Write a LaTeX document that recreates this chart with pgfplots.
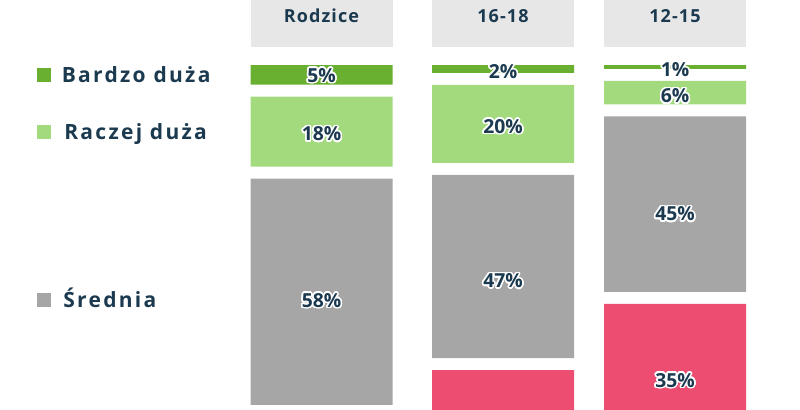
\documentclass[border=0pt]{standalone}
\usepackage{pgfplots}
\pgfplotsset{compat=1.18}
\usepackage{pgfplotstable}
\usepackage{fontspec}
\setmainfont{Open Sans}
\newfontfamily\legendfont[LetterSpace=11]{Open Sans}
\newfontfamily\colfont[LetterSpace=6]{Open Sans}
\usepackage{contour}
\contourlength{1.15pt}
\contournumber{24}

\definecolor{navy}{HTML}{1B3A4F}
\definecolor{bdcol}{HTML}{6AB030}
\definecolor{rdcol}{HTML}{A4DA7E}
\definecolor{srcol}{HTML}{A6A6A6}
\definecolor{rmcol}{HTML}{EC4D71}
\definecolor{headcol}{HTML}{E7E7E7}

% bar centre (px), shares in %, blank gap between segments (%),
% vertical nudge of each value label (px)
\pgfplotstableread{
x      bd  rd  sr  rm  g      bdo  rdo  sro   rmo
321.5  5   18  58  19  3.077  1.5  3    9.5   1.5
503    2   20  47  31  3.077  3.5  3.5  15    1.5
675    1   6   45  35  3.077  3.5  4    10.5  9
}\data

\pgfplotsset{
  frame/.style={
    at={(0,0)}, anchor=south west,
    scale only axis, width=600pt, height=307.5pt,
    xmin=0, xmax=800, ymin=-16.667, ymax=88.462,
    y dir=reverse, hide axis,
  },
  valuelabel/.style={
    draw=none, mark=none, point meta=explicit,
    restrict y to domain=-20:88.4,
    nodes near coords={\contour{white}{\pgfmathprintnumber{\pgfplotspointmeta}\%}},
    every node near coord/.append style={
      anchor=center, inner sep=0pt, text=navy,
      font=\bfseries\fontsize{14.5}{15}\selectfont},
  },
}

\begin{document}
\begin{tikzpicture}
% stacked segments, separated by blank gap segments
\begin{axis}[frame, ybar stacked, bar width=142]
  \addplot[draw=none, fill=bdcol] table[x=x, y=bd]{\data};
  \addplot[draw=none, fill=none] table[x=x, y=g]{\data};
  \addplot[draw=none, fill=rdcol] table[x=x, y=rd]{\data};
  \addplot[draw=none, fill=none] table[x=x, y=g]{\data};
  \addplot[draw=none, fill=srcol] table[x=x, y=sr]{\data};
  \addplot[draw=none, fill=none] table[x=x, y=g]{\data};
  \addplot[draw=none, fill=rmcol] table[x=x, y=rm]{\data};

  % column headers
  \fill[headcol] (axis cs:250.5,-16.667) rectangle (axis cs:392.5,-4.69);
  \fill[headcol] (axis cs:432,-16.667) rectangle (axis cs:574,-4.69);
  \fill[headcol] (axis cs:604,-16.667) rectangle (axis cs:746,-4.69);
  \coordinate (h1) at (axis cs:321.5,-10.85);
  \coordinate (h2) at (axis cs:503,-10.85);
  \coordinate (h3) at (axis cs:675,-10.85);

  % legend keys
  \fill[bdcol] (axis cs:37,0.77) rectangle (axis cs:51,4.36);
  \fill[rdcol] (axis cs:37,15.38) rectangle (axis cs:51,18.97);
  \fill[srcol] (axis cs:37,58.46) rectangle (axis cs:51,62.05);
  \coordinate (l1) at (axis cs:61.5,4.49);
  \coordinate (l2) at (axis cs:64,19.1);
  \coordinate (l3) at (axis cs:63,62.2);

  \coordinate (c1) at (rel axis cs:0,0);
  \coordinate (c2) at (rel axis cs:1,1);
\end{axis}

% value labels at the middle of each segment
\begin{axis}[frame, /pgf/number format/assume math mode=true]
  \addplot[valuelabel] table[x=x, meta=bd,
    y expr={\thisrow{bd}/2 + \thisrow{bdo}/3.9}]{\data};
  \addplot[valuelabel] table[x=x, meta=rd,
    y expr={\thisrow{bd} + \thisrow{g} + \thisrow{rd}/2 + \thisrow{rdo}/3.9}]{\data};
  \addplot[valuelabel] table[x=x, meta=sr,
    y expr={\thisrow{bd} + \thisrow{rd} + 2*\thisrow{g} + \thisrow{sr}/2 + \thisrow{sro}/3.9}]{\data};
  \addplot[valuelabel] table[x=x, meta=rm,
    y expr={\thisrow{bd} + \thisrow{rd} + \thisrow{sr} + 3*\thisrow{g} + \thisrow{rm}/2 + \thisrow{rmo}/3.9}]{\data};
\end{axis}

\begin{scope}[every node/.style={anchor=base, inner sep=0pt, text=navy,
    font=\colfont\bfseries\fontsize{13.5}{14}\selectfont}]
  \node at (h1) {Rodzice};
  \node at (h2) {16-18};
  \node at (h3) {12-15};
\end{scope}
\begin{scope}[every node/.style={anchor=base west, inner sep=0pt, text=navy,
    font=\legendfont\bfseries\fontsize{15.75}{16}\selectfont}]
  \node at (l1) {Bardzo duża};
  \node at (l2) {Raczej duża};
  \node at (l3) {Średnia};
\end{scope}

\pgfresetboundingbox
\useasboundingbox (c1) rectangle (c2);
\end{tikzpicture}
\end{document}
